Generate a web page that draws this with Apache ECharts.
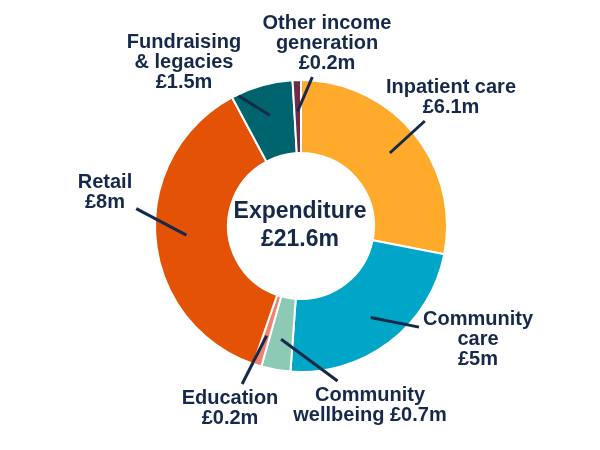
<!DOCTYPE html>
<html>
<head>
<meta charset="utf-8">
<script src="https://cdn.jsdelivr.net/npm/echarts@6/dist/echarts.min.js"></script>
<style>
  html, body { margin: 0; background: #fff; }
  #chart { width: 600px; height: 450px; }
</style>
</head>
<body>
<div id="chart"></div>
<script>
const categories = ['Inpatient care', 'Community care', 'Community wellbeing', 'Education', 'Retail', 'Fundraising & legacies', 'Other income generation'];
const values = [6.1, 5, 0.7, 0.2, 8, 1.5, 0.2];
const labelNames = ['Inpatient care', 'Community\ncare', 'Community\nwellbeing', 'Education', 'Retail', 'Fundraising\n& legacies', 'Other income\ngeneration'];
const valueBreaks = ['\n', '\n', ' ', '\n', '\n', '\n', '\n'];
const centerTitle = 'Expenditure';
const centerTotal = '£21.6m';

const colors = ['#FFAA2B', '#00A6C7', '#8DCAB6', '#F0826F', '#E35205', '#00646F', '#6E2B48'];
const navy = '#17294A';
const FONT = '"Liberation Sans", Arial, sans-serif';

// label block centres, layout only
const labelPos = [[451, 97], [478, 339], [370, 405], [230, 408], [105, 192], [184, 62], [327, 43]];

const chart = echarts.init(document.getElementById('chart'));

const data = categories.map((c, i) => ({ name: c, value: values[i] }));

// move each label and draw its leader from the slice anchor to the label box
function placeLabel(params) {
  const i = params.dataIndex;
  const cx = labelPos[i][0], cy = labelPos[i][1];
  const w = params.labelRect.width, h = params.labelRect.height;
  const p0 = params.labelLinePoints[0];
  const m = 4;
  const x0 = cx - w / 2 - m, x1 = cx + w / 2 + m;
  const y0 = cy - h / 2 - m, y1 = cy + h / 2 + m;
  const dx = cx - p0[0], dy = cy - p0[1];
  const tx = dx > 0 ? (x0 - p0[0]) / dx : dx < 0 ? (x1 - p0[0]) / dx : -Infinity;
  const ty = dy > 0 ? (y0 - p0[1]) / dy : dy < 0 ? (y1 - p0[1]) / dy : -Infinity;
  const t = Math.max(0, Math.max(tx, ty));
  return {
    x: cx,
    y: cy,
    align: 'center',
    verticalAlign: 'middle',
    labelLinePoints: [p0, [p0[0] + dx * t, p0[1] + dy * t]]
  };
}

chart.setOption({
  backgroundColor: '#fff',
  animation: false,
  color: colors,
  title: {
    text: centerTitle + '\n' + centerTotal,
    left: 'center',
    top: 198,
    padding: 0,
    textStyle: {
      fontFamily: FONT,
      fontSize: 23,
      fontWeight: 'bold',
      lineHeight: 28,
      color: navy
    }
  },
  series: [
    {
      type: 'pie',
      z: 2,
      center: [301, 226],
      radius: [73, 146],
      startAngle: 90,
      clockwise: true,
      silent: true,
      label: { show: false },
      labelLine: { show: false },
      itemStyle: { borderColor: '#fff', borderWidth: 2 },
      data: data
    },
    {
      // invisible pie that only carries labels and leader lines
      type: 'pie',
      z: 5,
      center: [301, 226],
      radius: [0, 115],
      startAngle: 90,
      clockwise: true,
      silent: true,
      avoidLabelOverlap: false,
      itemStyle: { color: 'rgba(0,0,0,0)', borderWidth: 0 },
      label: {
        show: true,
        position: 'outside',
        fontFamily: FONT,
        fontSize: 20,
        fontWeight: 'bold',
        lineHeight: 20,
        color: navy,
        formatter: p => labelNames[p.dataIndex] + valueBreaks[p.dataIndex] + '£' + p.value + 'm'
      },
      labelLine: {
        show: true,
        showAbove: true,
        length: 10,
        length2: 0,
        lineStyle: { color: navy, width: 3 }
      },
      labelLayout: placeLabel,
      data: data
    }
  ]
});
</script>
</body>
</html>
